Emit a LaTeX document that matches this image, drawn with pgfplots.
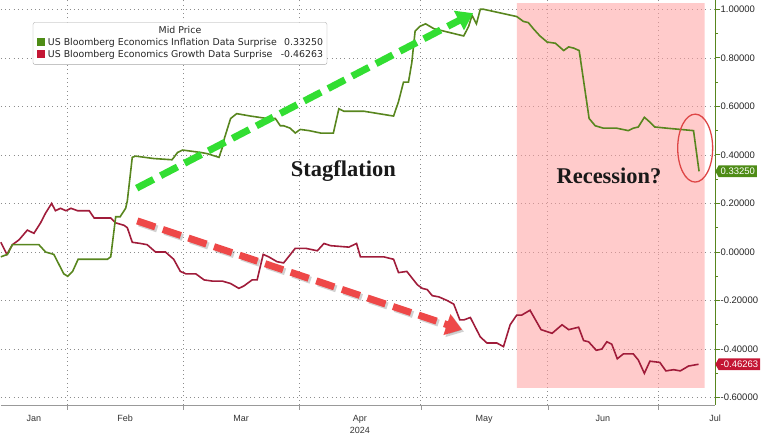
\documentclass[border=0pt]{standalone}
\usepackage{pgfplots}
\pgfplotsset{compat=1.18}
\usepackage{fontspec}
\setmainfont{Liberation Sans}
\newfontfamily\serifbold{Liberation Serif}
\newfontfamily\legfont{DejaVu Sans}
\usetikzlibrary{shapes.symbols, arrows.meta}
\definecolor{inflc}{RGB}{88,134,30}
\definecolor{growc}{RGB}{160,28,58}
\definecolor{inflbox}{RGB}{78,140,22}
\definecolor{growbox}{RGB}{196,22,52}
\definecolor{shade}{RGB}{255,160,160}
\definecolor{gridc}{RGB}{140,140,140}
\definecolor{garrow}{RGB}{50,222,50}
\definecolor{rarrow}{RGB}{238,72,72}
\definecolor{ring}{RGB}{222,70,70}
\begin{document}
\begin{tikzpicture}
\begin{axis}[
  width=715pt, height=405pt, scale only axis,
  xmin=0, xmax=129.3, ymin=-0.63, ymax=1.037,
  clip=false,
  axis x line*=bottom, axis y line*=right,
  x axis line style={draw=gray!80, -},
  y axis line style={draw=inflc, -},
  xtick={12,33,54,76,99,119}, xticklabels={},
  extra x ticks={6,22.5,43.5,65,87.5,109,129.3},
  extra x tick labels={Jan,Feb,Mar,{Apr\\2024},May,Jun,Jul},
  extra x tick style={major tick length=0pt, grid=none},
  xticklabel style={align=center, font=\fontsize{9}{11.5}\selectfont, text=black!80, yshift=-7pt},
  x tick style={draw=gray!80},
  major tick length=5pt, minor tick length=3pt,
  tick align=outside,
  ytick={-0.6,-0.4,-0.2,0,0.2,0.4,0.6,0.8,1.0},
  minor ytick={-0.5,-0.3,-0.1,0.1,0.3,0.5,0.7,0.9},
  y tick style={draw=inflc, line width=0.8pt},
  yticklabel style={font=\fontsize{9.5}{11}\selectfont, text=black!85, xshift=-3pt,
    /pgf/number format/.cd, fixed, fixed zerofill, precision=5},
  /pgf/number format/assume math mode=true,
  xmajorgrids, ymajorgrids,
  grid style={gridc, line width=0.6pt, dash pattern=on 0.8pt off 3.5pt},
]
% recession shading
\addplot[fill=shade, fill opacity=0.55, draw=none] coordinates
  {(93.4,-0.56) (127.4,-0.56) (127.4,1.025) (93.4,1.025)} \closedcycle;

% US Bloomberg Economics Growth Data Surprise
\addplot[color=growc, line width=1.6pt] coordinates {
(0,0.04) (1.1,-0.01) (2.1,0.03) (3.3,0.05) (4.8,0.09) (6.0,0.077) (7.2,0.12)
(8.1,0.16) (9.2,0.20) (9.9,0.17) (10.8,0.18) (11.8,0.17) (12.7,0.18) (13.9,0.17)
(16.0,0.17) (16.9,0.14) (19.9,0.14) (20.8,0.12) (22.3,0.11) (22.9,0.10) (23.8,0.04)
(25.3,0.035) (26.5,0.03) (28.0,0.0) (29.8,0.0) (31.3,-0.03) (32.5,-0.08) (33.5,-0.09)
(35.3,-0.09) (36.8,-0.115) (38.3,-0.12) (40.1,-0.12) (41.6,-0.13) (43.1,-0.15)
(44.0,-0.14) (45.5,-0.115) (46.4,-0.115) (47.5,-0.01) (48.5,-0.02) (50.0,-0.04)
(51.2,-0.045) (53.3,0.015) (55.2,0.015) (57.3,0.005) (58.5,0.035) (59.7,0.026)
(63.0,0.02) (64.4,0.035) (65.1,-0.02) (66.9,-0.02) (69.3,-0.02) (71.1,-0.03)
(72.0,-0.085) (73.5,-0.08) (75.4,-0.135) (76.3,-0.15) (77.2,-0.155) (78.1,-0.18)
(79.3,-0.185) (80.8,-0.20) (82.0,-0.215) (83.1,-0.28) (83.8,-0.28) (85.0,-0.27)
(86.8,-0.35) (88.0,-0.375) (89.8,-0.375) (91.0,-0.39) (92.2,-0.30) (93.4,-0.26)
(94.3,-0.26) (95.8,-0.24) (97.8,-0.32) (99.8,-0.335) (101.6,-0.30) (102.8,-0.32)
(104.6,-0.31) (105.5,-0.365) (106.4,-0.37) (107.8,-0.405) (108.8,-0.40) (109.7,-0.37)
(110.6,-0.38) (111.6,-0.44) (112.7,-0.42) (114.5,-0.42) (115.4,-0.445) (116.5,-0.50)
(117.5,-0.45) (119.3,-0.455) (120.4,-0.49) (121.8,-0.485) (123.0,-0.49) (124.5,-0.47)
(126.3,-0.46263)
};

% US Bloomberg Economics Inflation Data Surprise
\addplot[color=inflc, line width=1.6pt] coordinates {
(0,-0.02) (1.2,-0.01) (2.1,0.03) (6.9,0.03) (8.1,0.0) (9.6,-0.01) (10.5,-0.05)
(11.4,-0.09) (12.1,-0.10) (13.0,-0.08) (14.0,-0.03) (19.3,-0.03) (19.9,-0.02)
(20.8,0.145) (21.6,0.145) (22.6,0.18) (22.9,0.21) (23.8,0.39) (24.4,0.395)
(27.7,0.385) (31.0,0.38) (32.0,0.41) (32.9,0.42) (36.2,0.41) (37.4,0.405)
(39.5,0.39) (40.1,0.43) (40.5,0.47) (41.6,0.55) (42.7,0.57) (45.2,0.56)
(48.2,0.55) (49.7,0.55) (50.6,0.52) (51.2,0.52) (52.4,0.51) (53.3,0.49)
(54.2,0.505) (55.8,0.50) (57.9,0.49) (60.2,0.49) (61.2,0.59) (62.1,0.58)
(63.3,0.58) (65.7,0.58) (71.1,0.56) (72.0,0.62) (72.9,0.70) (73.8,0.70)
(74.4,0.78) (75.0,0.91) (75.9,0.93) (76.9,0.94) (78.4,0.92) (80.2,0.91)
(83.8,0.89) (84.7,0.93) (85.3,0.975) (86.1,0.94) (86.8,1.0) (87.4,1.0)
(90.4,0.985) (93.4,0.97) (94.6,0.95) (95.5,0.945) (96.4,0.92) (97.6,0.89)
(98.9,0.865) (100.4,0.86) (101.9,0.83) (102.8,0.845) (103.7,0.84) (104.7,0.83)
(106.5,0.55) (107.6,0.52) (109.1,0.51) (111.5,0.51) (113.6,0.50) (114.5,0.51)
(115.4,0.515) (116.5,0.555) (117.5,0.535) (118.4,0.515) (120.6,0.51) (125.4,0.50)
(126.4,0.3325)
};

% annotations
\draw[black, opacity=0.18, line width=7pt, dash pattern=on 19pt off 8pt,
  -{Triangle[length=16pt,width=21pt]}] ([xshift=2pt,yshift=-2pt]axis cs:24.7,0.128) -- ([xshift=2pt,yshift=-2pt]axis cs:83.5,-0.32);
\draw[rarrow, line width=7pt, dash pattern=on 19pt off 8pt,
  -{Triangle[length=16pt,width=21pt]}] (axis cs:24.7,0.128) -- (axis cs:83.5,-0.32);
\draw[garrow, line width=7pt, dash pattern=on 19pt off 8pt,
  -{Triangle[length=16pt,width=21pt]}] (axis cs:24.6,0.263) -- (axis cs:85.5,0.984);

\node[font=\serifbold\bfseries\fontsize{22.5}{22.5}\selectfont, text=black!90] at (axis cs:62.0,0.335) {Stagflation};
\node[font=\serifbold\bfseries\fontsize{22.5}{22.5}\selectfont, text=black!90] at (axis cs:110.1,0.315) {Recession?};

\draw[ring, line width=1.3pt] (axis cs:125.7,0.428) ellipse [x radius=17.5pt, y radius=34pt];

% last value tags
\node[signal, signal to=west, signal pointer angle=120, fill=inflbox, text=white,
  anchor=west, inner xsep=2pt, inner ysep=2.5pt, font=\fontsize{9.5}{11}\selectfont]
  at (axis cs:129.3,0.3325) {0.33250};
\node[signal, signal to=west, signal pointer angle=120, fill=growbox, text=white,
  anchor=west, inner xsep=2pt, inner ysep=2.5pt, font=\fontsize{9.5}{11}\selectfont]
  at (axis cs:129.3,-0.46263) {-0.46263};
\end{axis}

% legend
\node[draw=gray!70, rounded corners=2pt, fill=white, anchor=north west, inner xsep=4pt, inner ysep=3pt,
  font=\legfont\fontsize{9.4}{12}\selectfont, text=black!85] at (32pt,383pt) {%
  \begin{tabular}{@{}l@{\hspace{3pt}}l@{\hspace{4pt}}r@{}}
  \multicolumn{3}{c}{Mid Price}\\
  \textcolor{inflbox}{\rule{8pt}{8pt}} & US Bloomberg Economics Inflation Data Surprise & 0.33250\\
  \textcolor{growbox}{\rule{8pt}{8pt}} & US Bloomberg Economics Growth Data Surprise & -0.46263
  \end{tabular}};

\path[use as bounding box] (0pt,-36pt) rectangle (781pt,405pt);
\end{tikzpicture}
\end{document}
